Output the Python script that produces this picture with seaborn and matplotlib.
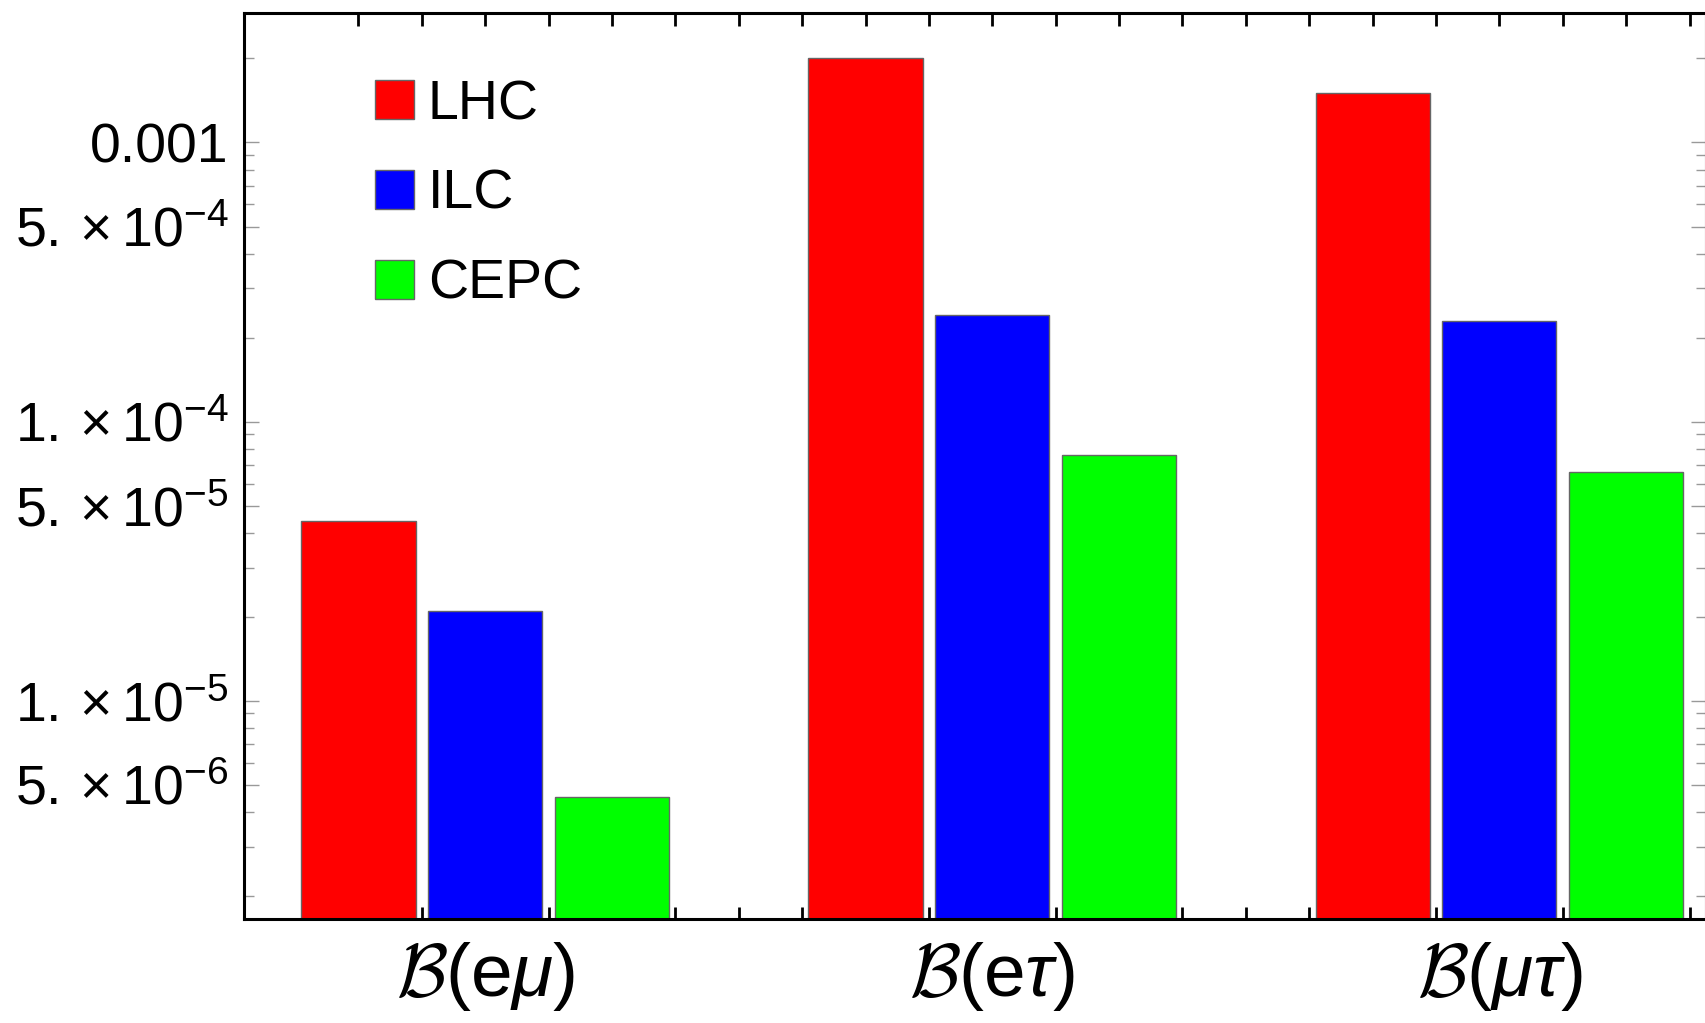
import numpy as np
import pandas as pd
import matplotlib
matplotlib.use("Agg")
import matplotlib.pyplot as plt
import seaborn as sns
from matplotlib.ticker import FixedLocator

# data
processes = ["emu", "etau", "mutau"]
process_labels = ["$\\mathcal{B}$(e$\\mu$)", "$\\mathcal{B}$(e$\\tau$)", "$\\mathcal{B}$($\\mu\\tau$)"]
colliders = ["LHC", "ILC", "CEPC"]
lhc = [4.4e-5, 2.0e-3, 1.5e-3]
ilc = [2.1e-5, 2.4e-4, 2.3e-4]
cepc = [4.5e-6, 7.6e-5, 6.6e-5]
colors = ["#ff0000", "#0000ff", "#00ff00"]

ytick_vals = [5e-6, 1e-5, 5e-5, 1e-4, 5e-4, 1e-3]
ytick_labels = ["$5.\\times10^{-6}$", "$1.\\times10^{-5}$", "$5.\\times10^{-5}$",
                "$1.\\times10^{-4}$", "$5.\\times10^{-4}$", "0.001"]

df = pd.DataFrame({
    "process": processes * 3,
    "collider": np.repeat(colliders, 3),
    "value": lhc + ilc + cepc,
})

sns.set_style("ticks")
plt.rcParams["font.family"] = ["Liberation Sans", "DejaVu Sans"]
plt.rcParams["mathtext.fontset"] = "custom"
plt.rcParams["mathtext.rm"] = "Liberation Sans"
plt.rcParams["mathtext.it"] = "Liberation Sans:italic"
plt.rcParams["mathtext.cal"] = "cmsy10"
plt.rcParams["mathtext.fallback"] = "stix"
plt.rcParams["text.color"] = "black"
plt.rcParams["xtick.labelcolor"] = "black"
plt.rcParams["ytick.labelcolor"] = "black"

fig = plt.figure(figsize=(17.06, 10.23), dpi=100)
ax = fig.add_axes([0.143, 0.1017, 0.857, 0.8856])

sns.barplot(data=df, x="process", y="value", hue="collider", hue_order=colliders,
            palette=colors, saturation=1, width=0.75, gap=0.1,
            edgecolor="#666666", linewidth=1, ax=ax)

ax.set_yscale("log")
ax.set_ylim(10 ** -5.782, 10 ** -2.536)
ax.set_xlim(-0.4758, 2.4075)

# y ticks
ax.yaxis.set_major_locator(FixedLocator(ytick_vals))
ax.set_yticklabels(ytick_labels)
minor = [m * 10.0 ** e for e in range(-6, -2) for m in range(1, 10)]
minor = [v for v in minor if v not in ytick_vals]
ax.yaxis.set_minor_locator(FixedLocator(minor))
ax.tick_params(axis="y", which="major", direction="in", length=11, width=1,
               color="#999999", labelsize=40, pad=11, right=True, labelcolor="black")
ax.tick_params(axis="y", which="minor", direction="in", length=7, width=1,
               color="#999999", right=True)

# x ticks
ax.set_xticks([0, 1, 2])
ax.set_xticklabels(process_labels)
xminor = [-0.25 + 0.125 * k for k in range(0, 22)]
xminor = [v for v in xminor if v not in (0, 1, 2)]
ax.xaxis.set_minor_locator(FixedLocator(xminor))
ax.tick_params(axis="x", which="both", direction="in", length=9, width=2,
               color="black", top=True)
ax.tick_params(axis="x", which="major", labelsize=54, pad=15, labelcolor="black")

for s in ax.spines.values():
    s.set_linewidth(2.2)
    s.set_color("black")

ax.set_xlabel("")
ax.set_ylabel("")

handles, labels = ax.get_legend_handles_labels()
ax.legend(handles, labels, loc="upper left", bbox_to_anchor=(0.0896, 0.927),
          frameon=False, fontsize=40, handlelength=0.7, handleheight=0.7,
          handletextpad=0.25, labelspacing=0.68, borderpad=0, borderaxespad=0,
          labelcolor="black")

fig.savefig("out.png", dpi=100)
